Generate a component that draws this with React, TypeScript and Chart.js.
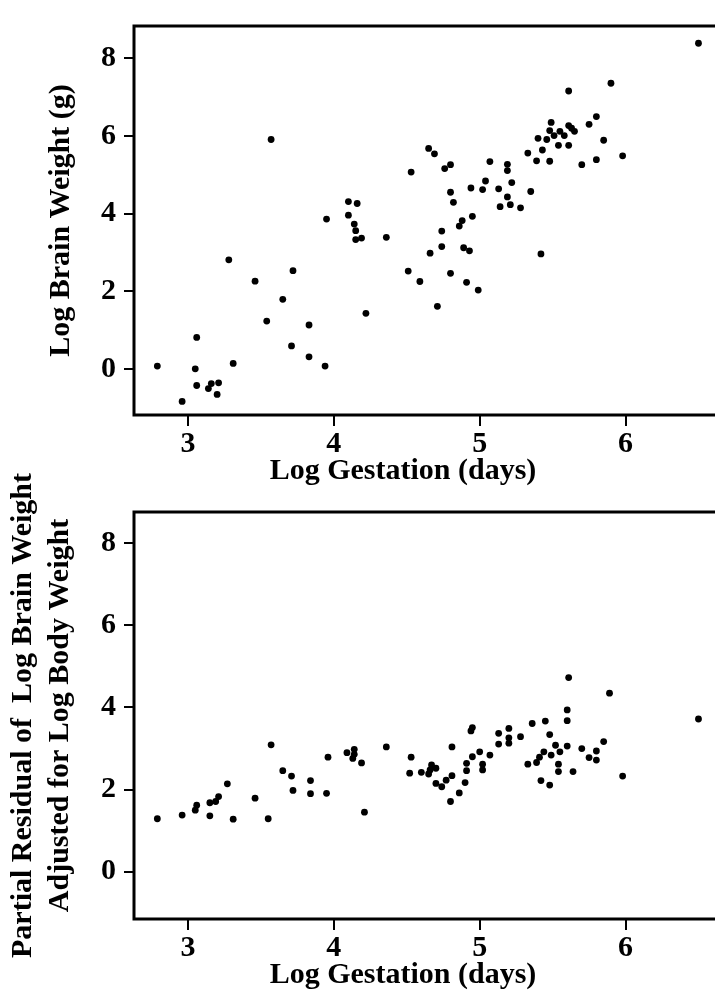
import React, { useEffect, useRef } from 'react';
import { Chart, registerables } from 'chart.js';

Chart.register(...registerables);

// ---- Data ----
const xTickValues = [3, 4, 5, 6];
const yTickValues = [0, 2, 4, 6, 8];

const xAxisTitle = 'Log Gestation (days)';
const topYTitle = 'Log Brain Weight (g)';
const bottomYTitle = ['Partial Residual of  Log Brain Weight', 'Adjusted for Log Body Weight'];

const topGestation = [
  3.57, 3.95, 3.28, 3.72, 3.46, 3.65, 3.54, 3.83, 3.06, 3.71, 3.83, 2.79, 3.05, 3.31, 3.94, 3.06, 3.16, 3.21, 3.14, 3.20, 2.96,
  4.65, 4.69, 5.07, 4.76, 4.80, 5.19, 5.19, 4.53, 5.04, 5.22, 4.94, 5.02, 5.13, 4.80, 5.19, 4.82, 5.14, 5.21, 5.28, 4.10,
  4.16, 4.10, 4.14, 4.15, 4.15, 4.19, 4.36, 4.95, 4.88, 4.86, 4.74, 4.74, 4.66, 4.89, 4.93, 4.51, 4.59, 4.80, 4.91, 4.99,
  4.71, 4.22,
  6.50, 5.90, 5.61, 5.80, 5.75, 5.49, 5.48, 5.55, 5.61, 5.65, 5.40, 5.46, 5.51, 5.58, 5.54, 5.61, 5.63, 5.85, 5.33, 5.43,
  5.39, 5.48, 5.70, 5.80, 5.98, 5.35, 5.42,
];
const topBrain = [
  5.91, 3.86, 2.81, 2.53, 2.26, 1.79, 1.23, 1.13, 0.81, 0.59, 0.31, 0.07, 0.0, 0.14, 0.07, -0.43, -0.38, -0.36, -0.51, -0.66, -0.84,
  5.68, 5.54, 5.34, 5.16, 5.26, 5.27, 5.11, 5.07, 4.84, 4.80, 4.66, 4.62, 4.64, 4.55, 4.43, 4.29, 4.18, 4.23, 4.15, 4.31,
  4.26, 3.96, 3.73, 3.56, 3.33, 3.37, 3.39, 3.93, 3.82, 3.68, 3.55, 3.15, 2.98, 3.12, 3.04, 2.52, 2.25, 2.46, 2.23, 2.03,
  1.61, 1.43,
  8.39, 7.36, 7.16, 6.50, 6.30, 6.35, 6.14, 6.12, 6.27, 6.12, 5.94, 5.91, 6.01, 6.01, 5.76, 5.76, 6.20, 5.89, 5.56, 5.64,
  5.36, 5.35, 5.26, 5.39, 5.49, 4.57, 2.96,
];

const bottomGestation = [
  2.79, 2.96, 3.05, 3.06, 3.15, 3.15, 3.19, 3.21, 3.27, 3.31, 3.46, 3.55, 3.57, 3.65, 3.71, 3.72, 3.84, 3.84, 3.96, 3.95,
  4.09, 4.14, 4.13, 4.14, 4.19, 4.36, 4.21, 4.53, 4.52, 4.60, 4.66, 4.67, 4.70, 4.65, 4.70, 4.74, 4.77, 4.81, 4.81, 4.80,
  4.86, 4.90, 4.91, 4.91, 4.95, 4.94, 4.95, 5.00, 5.02, 5.02, 5.07, 5.13, 5.13, 5.20, 5.20, 5.20, 5.28, 5.36, 5.33, 5.39,
  5.61, 5.89, 5.60, 5.60, 6.50, 5.45, 5.48, 5.52, 5.60, 5.44, 5.49, 5.55, 5.41, 5.70, 5.85, 5.80, 5.75, 5.80, 5.54, 5.54,
  5.64, 5.42, 5.48, 5.98,
];
const bottomResidual = [
  1.29, 1.38, 1.50, 1.62, 1.36, 1.68, 1.71, 1.83, 2.14, 1.28, 1.79, 1.29, 3.09, 2.46, 2.33, 1.98, 2.22, 1.90, 2.79, 1.91,
  2.90, 2.98, 2.76, 2.86, 2.65, 3.04, 1.45, 2.79, 2.40, 2.42, 2.48, 2.60, 2.52, 2.38, 2.15, 2.07, 2.23, 2.34, 3.04, 1.71,
  1.92, 2.17, 2.46, 2.64, 2.80, 3.43, 3.51, 2.92, 2.48, 2.62, 2.84, 3.37, 3.11, 3.49, 3.13, 3.26, 3.29, 3.61, 2.62, 2.66,
  4.73, 4.35, 3.94, 3.68, 3.72, 3.67, 3.34, 3.08, 3.06, 2.92, 2.84, 2.92, 2.79, 3.00, 3.17, 2.94, 2.78, 2.72, 2.62, 2.44,
  2.44, 2.22, 2.11, 2.33,
];

const FONT_FAMILY = "'Liberation Serif', 'Times New Roman', serif";

const framePlugin = {
  id: 'frame',
  beforeDatasetsDraw(chart: any) {
    const { ctx, chartArea, width } = chart;
    const { left, top, bottom } = chartArea;
    ctx.save();
    ctx.strokeStyle = '#000';
    ctx.lineWidth = 3;
    ctx.lineCap = 'square';
    ctx.beginPath();
    ctx.moveTo(width + 2, top);
    ctx.lineTo(left, top);
    ctx.lineTo(left, bottom);
    ctx.lineTo(width + 2, bottom);
    ctx.stroke();
    ctx.restore();
  },
  afterDraw(chart: any, _args: any, opts: any) {
    if (!opts || !opts.xTitle) return;
    const { ctx, chartArea } = chart;
    ctx.save();
    ctx.fillStyle = '#000';
    ctx.font = `bold 30px ${FONT_FAMILY}`;
    ctx.textAlign = 'center';
    ctx.textBaseline = 'middle';
    ctx.fillText(opts.xTitle, chartArea.left + 269, chartArea.bottom + 56);
    ctx.restore();
  },
};

interface PanelProps {
  xs: number[];
  ys: number[];
  yTitle: string | string[];
  yTitlePadTop: number;
  yTitleLineHeight: number;
  yMin: number;
  yMax: number;
  canvasTop: number;
  canvasHeight: number;
  padTop: number;
  xAxisHeight: number;
}

function Panel(props: PanelProps) {
  const ref = useRef<HTMLCanvasElement>(null);
  useEffect(() => {
    const tickFont = { family: FONT_FAMILY, size: 30, weight: 'bold' as const };
    const chart = new Chart(ref.current as HTMLCanvasElement, {
      type: 'scatter',
      data: {
        datasets: [
          {
            data: props.xs.map((x, i) => ({ x, y: props.ys[i] })),
            backgroundColor: '#000',
            borderColor: '#000',
            borderWidth: 0,
            pointRadius: 3.4,
            pointHoverRadius: 3.4,
          },
        ],
      },
      plugins: [framePlugin],
      options: {
        animation: false,
        responsive: false,
        events: [],
        layout: { padding: { top: props.padTop, left: 0, right: 0, bottom: 0 } },
        plugins: {
          legend: { display: false },
          tooltip: { enabled: false },
          // @ts-ignore
          frame: { xTitle: xAxisTitle },
        },
        scales: {
          x: {
            type: 'linear',
            min: 2.63,
            max: 6.59,
            afterBuildTicks: (axis: any) => {
              axis.ticks = xTickValues.map((v) => ({ value: v }));
            },
            afterFit: (axis: any) => {
              axis.height = props.xAxisHeight;
            },
            ticks: { font: tickFont, color: '#000', padding: 0, maxRotation: 0, autoSkip: false },
            grid: { drawOnChartArea: false, drawTicks: true, tickLength: 11, color: '#000', lineWidth: 2 },
            border: { display: false },
          },
          y: {
            type: 'linear',
            min: props.yMin,
            max: props.yMax,
            afterBuildTicks: (axis: any) => {
              axis.ticks = yTickValues.map((v) => ({ value: v }));
            },
            afterFit: (axis: any) => {
              axis.width = 134;
            },
            ticks: { font: tickFont, color: '#000', padding: 8, autoSkip: false },
            grid: { drawOnChartArea: false, drawTicks: true, tickLength: 10, color: '#000', lineWidth: 2 },
            border: { display: false },
            title: {
              display: true,
              text: props.yTitle,
              color: '#000',
              font: { family: FONT_FAMILY, size: 30, weight: 'bold', lineHeight: props.yTitleLineHeight },
              padding: { top: props.yTitlePadTop, bottom: 0 },
            },
          },
        },
      },
    });
    return () => chart.destroy();
  }, []);
  return (
    <canvas
      ref={ref}
      width={715}
      height={props.canvasHeight}
      style={{ position: 'absolute', left: 0, top: props.canvasTop, width: 715, height: props.canvasHeight }}
    />
  );
}

export default function App() {
  return (
    <div style={{ position: 'fixed', left: 0, top: 0, width: 715, height: 992, background: '#fff', overflow: 'hidden' }}>
      <Panel
        xs={topGestation}
        ys={topBrain}
        yTitle={topYTitle}
        yTitlePadTop={43}
        yTitleLineHeight={1.2}
        yMin={-1.19}
        yMax={8.835}
        canvasTop={0}
        canvasHeight={500}
        padTop={8}
        xAxisHeight={85}
      />
      <Panel
        xs={bottomGestation}
        ys={bottomResidual}
        yTitle={bottomYTitle}
        yTitlePadTop={5}
        yTitleLineHeight={1.233}
        yMin={-1.152}
        yMax={8.762}
        canvasTop={440}
        canvasHeight={552}
        padTop={72}
        xAxisHeight={73}
      />
    </div>
  );
}
